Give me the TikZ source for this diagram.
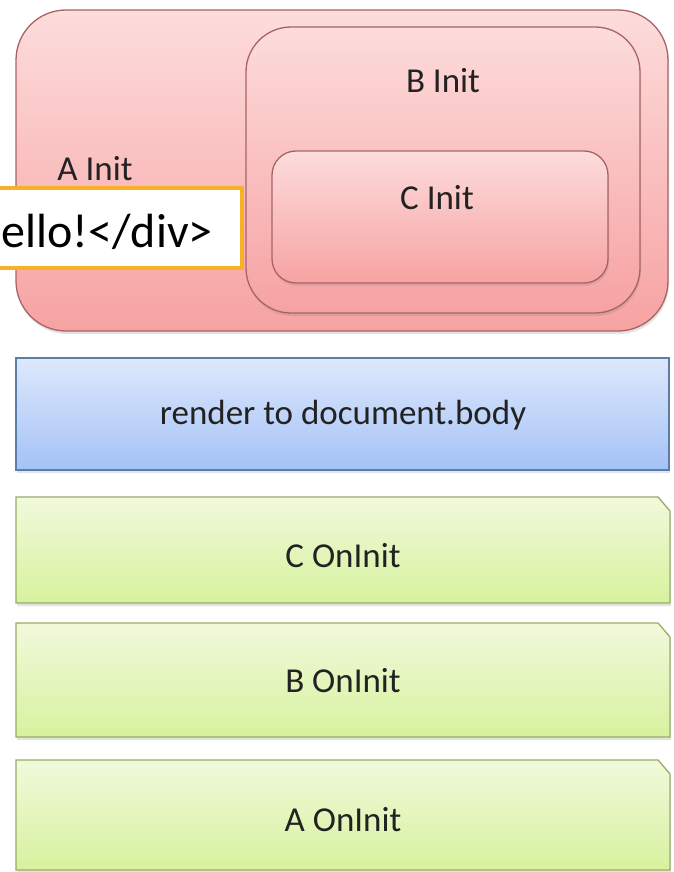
\documentclass[tikz,border=0pt]{standalone}
\usepackage{fontspec}
\setmainfont{Carlito}
\usetikzlibrary{shadows}
\definecolor{pinkTop}{HTML}{FDDCDC}
\definecolor{pinkBot}{HTML}{F7A2A2}
\definecolor{pinkLine}{HTML}{A86464}
\definecolor{blueTop}{HTML}{DEE8FC}
\definecolor{blueBot}{HTML}{A4C2F6}
\definecolor{blueLine}{HTML}{5A7EA8}
\definecolor{greenTop}{HTML}{F1F9DC}
\definecolor{greenBot}{HTML}{D7F29E}
\definecolor{greenLine}{HTML}{98AC6A}
\definecolor{orangeLine}{HTML}{F8B126}
\definecolor{txt}{HTML}{222222}
\begin{document}
\begin{tikzpicture}[x=1pt,y=-1pt,
  boxshadow/.style={drop shadow={opacity=0.22, shadow xshift=1pt, shadow yshift=-3pt}},
  pinkbox/.style={draw=pinkLine, line width=1.3pt, top color=pinkTop, bottom color=pinkBot, boxshadow},
  bluebox/.style={draw=blueLine, line width=1.3pt, top color=blueTop, bottom color=blueBot, boxshadow},
  greenbox/.style={draw=greenLine, line width=1.3pt, top color=greenTop, bottom color=greenBot, boxshadow},
  lbl/.style={font=\fontsize{35}{40}\selectfont, text=txt, inner sep=0pt},
  overlaybox/.style={draw=orangeLine, line width=3.5pt, fill=white}
]
\useasboundingbox (0,0) rectangle (673,872);
\fill[white] (0,0) rectangle (673,872);

% nested pink boxes
\node[pinkbox, rounded corners=50pt, minimum width=652pt, minimum height=321pt, inner sep=0pt] (boxA) at (342,170.5) {};
\node[pinkbox, rounded corners=45pt, minimum width=394pt, minimum height=286pt, inner sep=0pt] (boxB) at (443,170) {};
\node[pinkbox, rounded corners=24pt, minimum width=336pt, minimum height=132pt, inner sep=0pt] (boxC) at (440,217) {};
\node[lbl] (labA) at (95,169) {A Init};
\node[lbl] (labB) at (443,81) {B Init};
\node[lbl] (labC) at (437,198) {C Init};

% overlay
\node[overlaybox, minimum width=256pt, minimum height=80pt, inner sep=0pt] (ov) at (114,228) {};
\node[font=\fontsize{48}{56}\selectfont, text=black, inner sep=0pt, anchor=base east] (ovtext) at (213,247) {ello!</div>};

% blue box
\node[bluebox, minimum width=653pt, minimum height=112pt, inner sep=0pt] (render) at (342.5,414) {};
\node[lbl] (renderlab) at (343,415) {render to document.body};

% green snipped boxes
\draw[greenbox] (16,497) -- (658,497) -- (670,511) -- (670,603) -- (16,603) -- cycle;
\node[lbl] (conit) at (343,556) {C OnInit};
\draw[greenbox] (16,623) -- (658,623) -- (670,637) -- (670,737) -- (16,737) -- cycle;
\node[lbl] (bonit) at (343,681) {B OnInit};
\draw[greenbox] (16,760) -- (658,760) -- (670,774) -- (670,870) -- (16,870) -- cycle;
\node[lbl] (aonit) at (343,820) {A OnInit};
\end{tikzpicture}
\end{document}
